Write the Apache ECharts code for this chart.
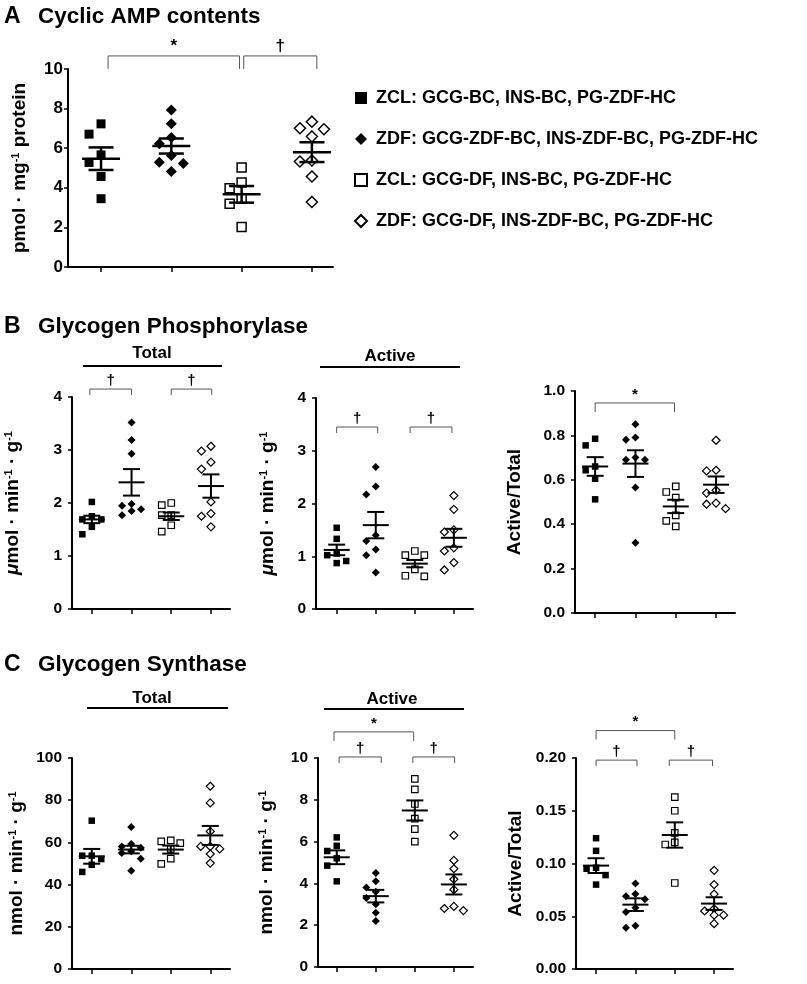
<!DOCTYPE html>
<html lang="en">
<head>
<meta charset="UTF-8">
<title>Cyclic AMP and glycogen enzymes</title>
<style>
  html, body { margin: 0; padding: 0; background: #fff; }
  #main { width: 807px; height: 984px; }
</style>
<script src="https://cdn.jsdelivr.net/npm/echarts@6/dist/echarts.min.js"></script>
</head>
<body>
<div id="main"></div>
<script>
var FONT = '"Liberation Sans", Arial, sans-serif';

// groups (legend text)
var groups = [
  'ZCL: GCG-BC, INS-BC, PG-ZDF-HC',
  'ZDF: GCG-ZDF-BC, INS-ZDF-BC, PG-ZDF-HC',
  'ZCL: GCG-DF, INS-BC, PG-ZDF-HC',
  'ZDF: GCG-DF, INS-ZDF-BC, PG-ZDF-HC'
];

// A  cyclic AMP, pmol/mg protein
var campValues = [
  [7.23, 6.71, 5.66, 5.28, 4.57, 3.45],
  [7.93, 7.23, 6.54, 6.22, 5.63, 5.29, 5.23, 4.82],
  [5.03, 4.27, 3.98, 3.45, 3.19, 2.02],
  [7.34, 7.01, 6.96, 6.59, 5.38, 5.33, 4.57, 3.28]
];
var campMean = [5.47, 6.11, 3.67, 5.8];
var campSem = [0.57, 0.38, 0.42, 0.5];

// B  glycogen phosphorylase, total
var gpTotalValues = [
  [2.02, 1.75, 1.69, 1.69, 1.55, 1.41],
  [3.52, 3.19, 2.93, 1.98, 1.95, 1.88, 1.85, 1.77],
  [2.0, 1.96, 1.77, 1.77, 1.58, 1.46],
  [3.07, 2.98, 2.77, 2.64, 2.02, 1.8, 1.75, 1.55]
];
var gpTotalMean = [1.69, 2.39, 1.75, 2.32];
var gpTotalSem = [0.07, 0.25, 0.07, 0.22];

// B  glycogen phosphorylase, active
var gpActiveValues = [
  [1.54, 1.33, 1.05, 1.02, 0.91, 0.87],
  [2.69, 2.32, 2.17, 1.4, 1.29, 1.13, 1.02, 0.69],
  [1.1, 1.02, 1.02, 0.75, 0.63, 0.62],
  [2.15, 1.89, 1.5, 1.46, 1.16, 1.1, 0.88, 0.74]
];
var gpActiveMean = [1.12, 1.59, 0.86, 1.35];
var gpActiveSem = [0.1, 0.25, 0.07, 0.17];

// B  glycogen phosphorylase, active/total
var gpRatioValues = [
  [0.785, 0.755, 0.66, 0.643, 0.605, 0.512],
  [0.85, 0.79, 0.78, 0.7, 0.69, 0.69, 0.565, 0.317],
  [0.57, 0.545, 0.52, 0.44, 0.415, 0.39],
  [0.778, 0.643, 0.64, 0.553, 0.54, 0.495, 0.49, 0.47]
];
var gpRatioMean = [0.66, 0.673, 0.48, 0.578];
var gpRatioSem = [0.042, 0.06, 0.03, 0.037];

// C  glycogen synthase, total
var gsTotalValues = [
  [70.3, 53.7, 53.7, 52.1, 49.4, 46.0],
  [67.3, 59.2, 58.0, 57.5, 55.8, 55.0, 52.3, 46.6],
  [61.0, 60.5, 59.7, 56.9, 52.3, 49.8],
  [86.6, 78.7, 65.2, 58.1, 58.1, 56.9, 54.5, 50.2]
];
var gsTotalMean = [53.4, 56.6, 56.6, 63.3];
var gsTotalSem = [3.5, 1.8, 1.9, 4.5];

// C  glycogen synthase, active
var gsActiveValues = [
  [6.2, 5.8, 5.55, 5.2, 4.85, 4.1],
  [4.5, 4.1, 3.8, 3.6, 3.3, 3.0, 2.6, 2.2],
  [9.0, 8.5, 7.8, 7.1, 6.6, 6.0],
  [6.3, 5.1, 4.7, 4.2, 3.7, 2.9, 2.8, 2.7]
];
var gsActiveMean = [5.25, 3.39, 7.49, 3.95];
var gsActiveSem = [0.33, 0.3, 0.48, 0.48];

// C  glycogen synthase, active/total
var gsRatioValues = [
  [0.124, 0.112, 0.096, 0.095, 0.089, 0.08],
  [0.081, 0.071, 0.069, 0.066, 0.058, 0.054, 0.041, 0.039],
  [0.163, 0.15, 0.129, 0.12, 0.118, 0.0815],
  [0.0935, 0.08, 0.071, 0.057, 0.055, 0.051, 0.051, 0.043]
];
var gsRatioMean = [0.098, 0.061, 0.127, 0.062];
var gsRatioSem = [0.007, 0.006, 0.012, 0.006];

// significance brackets: from/to group, height in axis units
var campBrackets = [{ from: 1.1, to: 2.97, y: 10.66, mark: '*' }, { from: 3.03, to: 4.07, y: 10.66, mark: '†' }];
var gpTotalBrackets = [{ from: 0.95, to: 2, y: 4.15, mark: '†' }, { from: 3, to: 4.02, y: 4.15, mark: '†' }];
var gpActiveBrackets = [{ from: 1, to: 2.05, y: 3.45, mark: '†' }, { from: 2.88, to: 3.95, y: 3.45, mark: '†' }];
var gpRatioBrackets = [{ from: 1, to: 2.97, y: 0.946, mark: '*' }];
var gsActiveBrackets = [{ from: 0.93, to: 2.97, y: 11.25, mark: '*' }, { from: 1.06, to: 2.14, y: 10.05, mark: '†' }, { from: 2.95, to: 4.02, y: 10.05, mark: '†' }];
var gsRatioBrackets = [{ from: 1, to: 3, y: 0.226, mark: '*' }, { from: 1, to: 2.04, y: 0.198, mark: '†' }, { from: 2.86, to: 3.96, y: 0.198, mark: '†' }];

var txt = { fontFamily: FONT, fontWeight: 'bold', color: '#000' };
var nameRich = {
  t: Object.assign({ fontSize: 19 }, txt),
  i: Object.assign({ fontSize: 19, fontStyle: 'italic' }, txt),
  s: Object.assign({ fontSize: 11, verticalAlign: 'top' }, txt)
};

var big = { sq: 9, di: 11, step: 12, lw: 2.5, half: 19, cap: 12.5, tick: 17, margin: 5, drop: [13, 13], markFont: 17 };
var small = { sq: 6.5, di: 8, step: 9.5, lw: 2, half: 13, cap: 8.5, tick: 15.5, margin: 10, drop: [9, 6], markFont: 15 };

var panels = [
  { grid: { left: 68, top: 69, width: 265, height: 198 }, x: [0.53, 4.3], y: [0, 10, 2], dec: 0,
    name: '{t|pmol · mg}{s|-1}{t| protein}', nameGap: 39, values: campValues, mean: campMean, sem: campSem, brackets: campBrackets, st: big },
  { grid: { left: 72, top: 397, width: 158, height: 212 }, x: [0.5, 4.48], y: [0, 4, 1], dec: 0,
    name: '{i|μ}{t|mol · min}{s|-1}{t| · g}{s|-1}', nameGap: 50, values: gpTotalValues, mean: gpTotalMean, sem: gpTotalSem, brackets: gpTotalBrackets, st: small },
  { grid: { left: 316, top: 398, width: 157, height: 211 }, x: [0.47, 4.49], y: [0, 4, 1], dec: 0,
    name: '{i|μ}{t|mol · min}{s|-1}{t| · g}{s|-1}', nameGap: 39, values: gpActiveValues, mean: gpActiveMean, sem: gpActiveSem, brackets: gpActiveBrackets, st: small },
  { grid: { left: 575, top: 391, width: 160, height: 222 }, x: [0.5, 4.47], y: [0, 1, 0.2], dec: 1,
    name: '{t|Active/Total}', nameGap: 51, values: gpRatioValues, mean: gpRatioMean, sem: gpRatioSem, brackets: gpRatioBrackets, st: small },
  { grid: { left: 72, top: 758, width: 158, height: 211 }, x: [0.5, 4.5], y: [0, 100, 20], dec: 0,
    name: '{t|nmol · min}{s|-1}{t| · g}{s|-1}', nameGap: 46, values: gsTotalValues, mean: gsTotalMean, sem: gsTotalSem, brackets: [], st: small },
  { grid: { left: 318, top: 758, width: 155, height: 209 }, x: [0.52, 4.49], y: [0, 10, 2], dec: 0,
    name: '{t|nmol · min}{s|-1}{t| · g}{s|-1}', nameGap: 42, values: gsActiveValues, mean: gsActiveMean, sem: gsActiveSem, brackets: gsActiveBrackets, st: small },
  { grid: { left: 576, top: 758, width: 157, height: 211 }, x: [0.49, 4.48], y: [0, 0.2, 0.05], dec: 2,
    name: '{t|Active/Total}', nameGap: 51, values: gsRatioValues, mean: gsRatioMean, sem: gsRatioSem, brackets: gsRatioBrackets, st: small }
];

// column-scatter spread: overlapping points go to a side slot (at most one step out),
// if every slot is taken the one with the most room wins
function swarm(values, pxPerUnit, size, step) {
  var order = values.map(function (v, i) { return i; })
    .sort(function (a, b) { return values[b] - values[a]; });
  var placed = [], off = [];
  order.forEach(function (i) {
    var py = values[i] * pxPerUnit;
    var best = 0, bestRoom = -1;
    [0, -1, 1].some(function (slot) {
      var px = slot * step;
      var room = Infinity;
      placed.forEach(function (p) {
        if (p.px === px) room = Math.min(room, Math.abs(p.py - py));
      });
      if (room >= size) { best = px; bestRoom = room; return true; }
      if (room > bestRoom) { best = px; bestRoom = room; }
      return false;
    });
    placed.push({ px: best, py: py });
    off[i] = best;
  });
  return off;
}

function meanSem(st) {
  return function (params, api) {
    var x = api.value(0), m = api.value(1), s = api.value(2);
    var c = api.coord([x, m]), t = api.coord([x, m + s]), b = api.coord([x, m - s]);
    var ls = { stroke: '#000', lineWidth: st.lw };
    return { type: 'group', children: [
      { type: 'line', shape: { x1: c[0] - st.half, y1: c[1], x2: c[0] + st.half, y2: c[1] }, style: ls },
      { type: 'line', shape: { x1: c[0], y1: t[1], x2: c[0], y2: b[1] }, style: ls },
      { type: 'line', shape: { x1: c[0] - st.cap, y1: t[1], x2: c[0] + st.cap, y2: t[1] }, style: ls },
      { type: 'line', shape: { x1: c[0] - st.cap, y1: b[1], x2: c[0] + st.cap, y2: b[1] }, style: ls }
    ] };
  };
}

function bracket(list, st) {
  return function (params, api) {
    var b = list[params.dataIndex];
    var p1 = api.coord([b.from, b.y]), p2 = api.coord([b.to, b.y]);
    var d = b.mark === '*' ? st.drop[0] : st.drop[1];
    return { type: 'group', children: [
      { type: 'polyline', shape: { points: [[p1[0], p1[1] + d], [p1[0], p1[1]], [p2[0], p2[1]], [p2[0], p2[1] + d]] },
        style: { stroke: '#555', lineWidth: 1, fill: null } },
      { type: 'text', x: (p1[0] + p2[0]) / 2, y: p1[1] - 1,
        style: { text: b.mark, font: 'bold ' + st.markFont + 'px ' + FONT, fill: '#000', textAlign: 'center', textVerticalAlign: 'bottom' } }
    ] };
  };
}

var symbols = ['rect', 'diamond', 'rect', 'diamond'];
var fills = ['#000', '#000', '#fff', '#fff'];

var grids = [], xAxes = [], yAxes = [], series = [];
panels.forEach(function (p, pi) {
  var st = p.st;
  grids.push(Object.assign({ containLabel: false }, p.grid));
  xAxes.push({
    type: 'value', gridIndex: pi, min: p.x[0], max: p.x[1],
    axisLine: { show: true, lineStyle: { color: '#000', width: 2 } },
    axisTick: { show: true, customValues: [1, 2, 3, 4], length: 5, lineStyle: { color: '#000', width: 1.5 } },
    axisLabel: { show: false }, splitLine: { show: false }
  });
  yAxes.push({
    type: 'value', gridIndex: pi, min: p.y[0], max: p.y[1], interval: p.y[2],
    axisLine: { show: true, lineStyle: { color: '#000', width: 2 } },
    axisTick: { show: true, length: 4, lineStyle: { color: '#000', width: 1.5 } },
    axisLabel: Object.assign({ fontSize: st.tick, margin: st.margin,
      formatter: function (v) { return v.toFixed(p.dec); } }, txt),
    splitLine: { show: false },
    name: p.name, nameLocation: 'middle', nameRotate: 90, nameGap: p.nameGap,
    nameTextStyle: { rich: nameRich }
  });
  var pxPerUnit = p.grid.height / (p.y[1] - p.y[0]);
  var unitPerPx = (p.x[1] - p.x[0]) / p.grid.width;
  p.values.forEach(function (vals, g) {
    var size = g % 2 ? st.di : st.sq;
    var off = swarm(vals, pxPerUnit, st.sq + 1.5, st.step);
    series.push({
      type: 'scatter', name: groups[g], xAxisIndex: pi, yAxisIndex: pi,
      symbol: symbols[g], symbolSize: size, silent: true, clip: false, z: 2,
      itemStyle: { color: fills[g], borderColor: '#000', borderWidth: g < 2 ? 0 : (st === big ? 1.5 : 1.2), opacity: 1 },
      data: vals.map(function (v, i) { return [g + 1 + off[i] * unitPerPx, v]; })
    });
  });
  series.push({
    type: 'custom', xAxisIndex: pi, yAxisIndex: pi, silent: true, clip: false, z: 3,
    renderItem: meanSem(st),
    data: p.mean.map(function (m, g) { return [g + 1, m, p.sem[g]]; })
  });
  if (p.brackets.length) {
    series.push({
      type: 'custom', xAxisIndex: pi, yAxisIndex: pi, silent: true, clip: false, z: 3,
      renderItem: bracket(p.brackets, st),
      data: p.brackets.map(function (b) { return [b.from, b.y]; })
    });
  }
});

function label(text, x, y, size, align) {
  return { type: 'text', x: x, y: y,
    style: { text: text, font: 'bold ' + size + 'px ' + FONT, fill: '#000', textAlign: align || 'left', textVerticalAlign: 'middle' } };
}
function rule(x1, x2, y) {
  return { type: 'line', shape: { x1: x1, y1: y, x2: x2, y2: y }, style: { stroke: '#000', lineWidth: 2 } };
}

var myChart = echarts.init(document.getElementById('main'));
myChart.setOption({
  animation: false,
  backgroundColor: '#fff',
  textStyle: { fontFamily: FONT },
  grid: grids,
  xAxis: xAxes,
  yAxis: yAxes,
  legend: {
    data: groups, orient: 'vertical', left: 349, top: 83, itemWidth: 12, itemHeight: 12, itemGap: 21,
    selectedMode: false,
    textStyle: Object.assign({ fontSize: 18, lineHeight: 20, padding: [0, 0, 0, 4] }, txt)
  },
  graphic: [
    label('A', 4, 17, 23), label('Cyclic AMP contents', 38, 17, 22.5),
    label('B', 4, 327, 23), label('Glycogen Phosphorylase', 38, 327, 22.5),
    label('C', 4, 665, 23), label('Glycogen Synthase', 38, 665, 22.5),
    label('Total', 152, 353, 17, 'center'), rule(83, 222, 366),
    label('Active', 390, 356, 17, 'center'), rule(320, 460, 367),
    label('Total', 152, 698, 17, 'center'), rule(87, 228, 708),
    label('Active', 392, 699, 17, 'center'), rule(324, 464, 709)
  ],
  series: series
});
</script>
</body>
</html>
